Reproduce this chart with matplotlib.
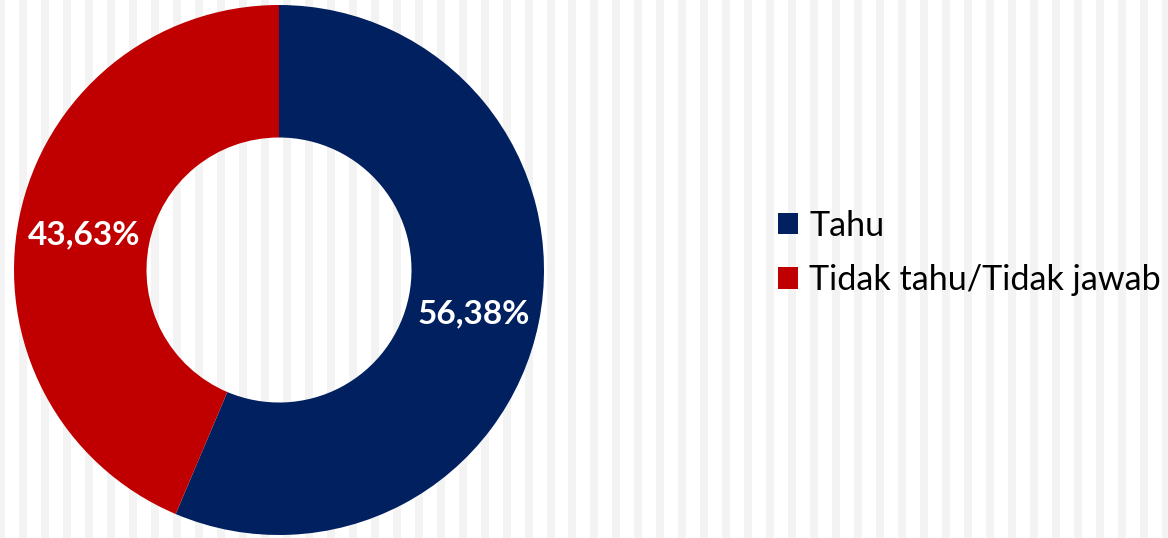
import numpy as np
import matplotlib
matplotlib.use("Agg")
import matplotlib.pyplot as plt
from matplotlib.patches import Rectangle, Patch

categories = ["Tahu", "Tidak tahu/Tidak jawab"]
values = [56.38, 43.63]
labels = ["56,38%", "43,63%"]
colors = ["#002060", "#C00000"]

W, H = 1168, 538
fig = plt.figure(figsize=(W / 100, H / 100), dpi=100)
fig.patch.set_facecolor("white")

# vertical stripe background
period, sw, x0 = 21.98, 8.0, -3.0
x = x0
while x < W:
    fig.patches.append(Rectangle((x / W, 0), sw / W, 1, transform=fig.transFigure,
                                 facecolor="#f3f3f3", edgecolor="none", zorder=-10))
    x += period

cx, cy, R = 279, 268, 265
ax = fig.add_axes([(cx - R) / W, (cy - R) / H, 2 * R / W, 2 * R / H])
ax.set_zorder(5)
ax.set_axis_off()
ax.patch.set_visible(False)
wedges, _ = ax.pie(values, colors=colors, startangle=90, counterclock=False,
                   radius=1.0, wedgeprops=dict(width=0.5, linewidth=0))
ax.set_xlim(-1, 1)
ax.set_ylim(-1, 1)

font = "Lato"
for w, lab in zip(wedges, labels):
    ang = np.deg2rad((w.theta1 + w.theta2) / 2)
    r = 0.75
    ax.text(r * np.cos(ang), r * np.sin(ang) - 0.015, lab, ha="center", va="center",
            color="white", fontsize=24, fontweight="bold", family=font)

handles = [Patch(facecolor=c, edgecolor="none") for c in colors]
leg = fig.legend(handles, categories, loc="center left", bbox_to_anchor=(778 / W, 1 - 253 / H),
                 frameon=False, prop=dict(family=font, size=24.6), handlelength=0.58, handleheight=0.58,
                 handletextpad=0.33, labelspacing=0.65, borderpad=0, borderaxespad=0)
leg.set_zorder(6)

fig.savefig("out.png", dpi=100, facecolor="white")
